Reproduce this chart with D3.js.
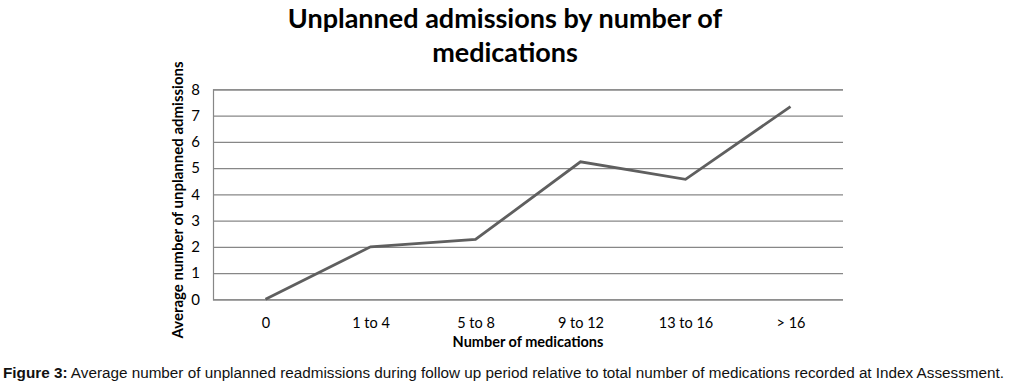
<!DOCTYPE html>
<html><head><meta charset="utf-8">
<script src="https://cdn.jsdelivr.net/npm/d3@7"></script>
<style>body{margin:0;background:#fff}svg{display:block}</style>
</head><body><svg id="c" width="1010" height="386"></svg>
<script>
const categories = ["0", "1 to 4", "5 to 8", "9 to 12", "13 to 16", "> 16"];
const values = [0, 2.0, 2.28, 5.24, 4.57, 7.34];
const yTicks = [0, 1, 2, 3, 4, 5, 6, 7, 8];
const titleLines = ["Unplanned admissions by number of", "medications"];
const yTitle = "Average number of unplanned admissions";
const xTitle = "Number of medications";
const captionBold = "Figure 3:";
const captionText = " Average number of unplanned readmissions during follow up period relative to total number of medications recorded at Index Assessment.";

const svg = d3.select("#c");
const font = "Lato, 'Open Sans', sans-serif";
const m = {left: 213, right: 843, top: 89.3, bottom: 299.3};
const x = d3.scalePoint().domain(categories).range([m.left, m.right]).padding(0.5);
const y = d3.scaleLinear().domain([0, 8]).range([m.bottom, m.top]);

// gridlines
const yAxis = d3.axisLeft(y).tickValues(yTicks).tickSize(-(m.right - m.left)).tickPadding(10);
const gy = svg.append("g").attr("transform", `translate(${m.left},0)`).call(yAxis);
gy.select(".domain").attr("stroke", "#878787").attr("stroke-width", 1.2);
gy.selectAll(".tick line").attr("stroke", "#878787").attr("stroke-width", 1.2);
gy.selectAll(".tick text").attr("font-family", font).attr("font-size", 15).attr("fill", "#000").attr("x", -13);

const xAxis = d3.axisBottom(x).tickSize(0).tickPadding(18);
const gx = svg.append("g").attr("transform", `translate(0,${m.bottom})`).call(xAxis);
gx.select(".domain").remove();
gx.selectAll(".tick text").attr("font-family", font).attr("font-size", 14.5).attr("fill", "#000");

// line
svg.append("path").datum(values)
  .attr("fill", "none").attr("stroke", "#5f5f5f").attr("stroke-width", 2.8)
  .attr("d", d3.line().x((d, i) => x(categories[i])).y(d => y(d)));

// title
svg.append("g").selectAll("text").data(titleLines).join("text")
  .attr("x", 505).attr("y", (d, i) => 28 + i * 34)
  .attr("text-anchor", "middle").attr("font-family", font).attr("font-weight", "bold")
  .attr("font-size", 27).attr("fill", "#000").text(d => d);

// axis titles
svg.append("text").attr("transform", "translate(183,200) rotate(-90)")
  .attr("text-anchor", "middle").attr("font-family", font).attr("font-weight", "bold")
  .attr("font-size", 15).attr("fill", "#000").text(yTitle);
svg.append("text").attr("x", 528).attr("y", 347)
  .attr("text-anchor", "middle").attr("font-family", font).attr("font-weight", "bold")
  .attr("font-size", 14.5).attr("fill", "#000").text(xTitle);

// caption
const cap = svg.append("text").attr("x", 3).attr("y", 378)
  .attr("font-family", "'Liberation Sans Narrow', 'Liberation Sans', Arial, sans-serif")
  .attr("font-size", 14).attr("fill", "#111")
  .attr("textLength", 1001).attr("lengthAdjust", "spacingAndGlyphs");
cap.append("tspan").attr("font-weight", "bold").text(captionBold);
cap.append("tspan").text(captionText);
</script></body></html>
